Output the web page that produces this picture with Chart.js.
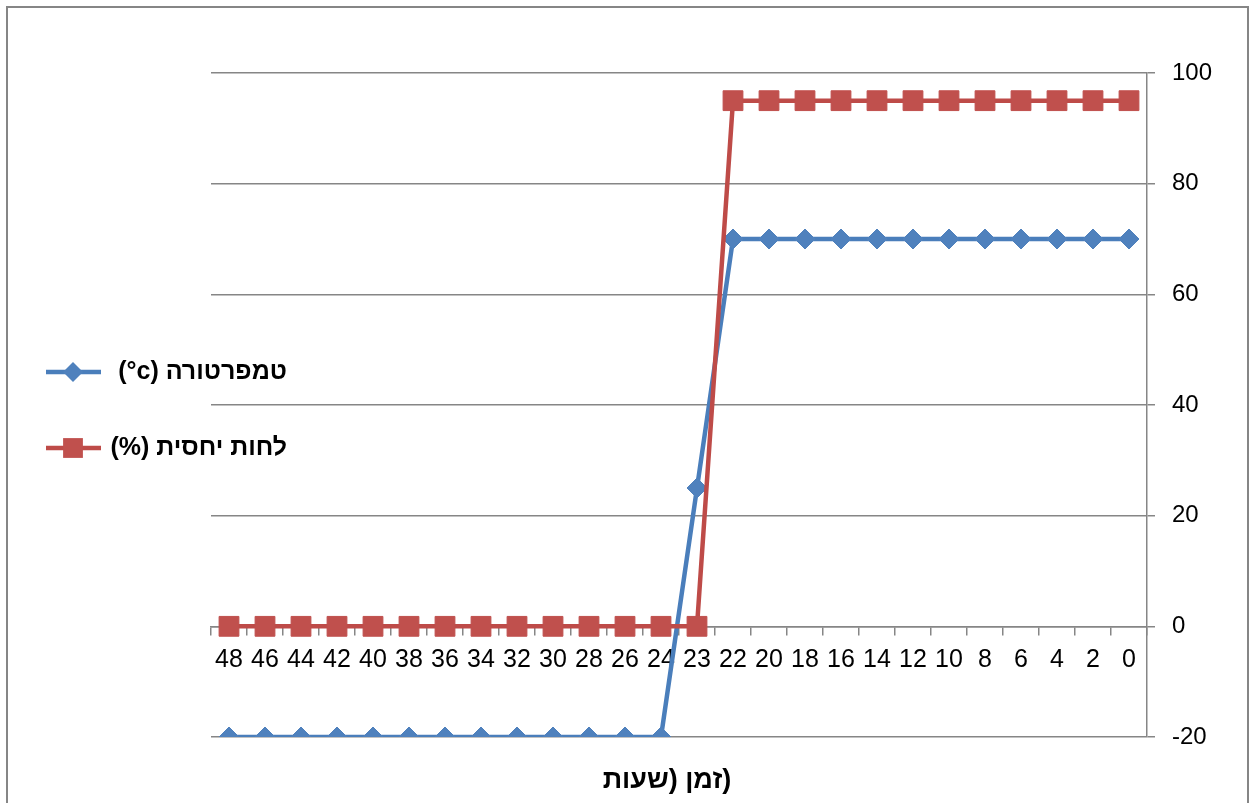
<!DOCTYPE html>
<html>
<head>
<meta charset="utf-8">
<title>טמפרטורה ולחות יחסית</title>
<script src="https://cdn.jsdelivr.net/npm/chart.js@4.4.1/dist/chart.umd.min.js"></script>
<style>
  html, body { margin: 0; padding: 0; background: #fff; }
  #wrap { position: relative; width: 1254px; height: 803px; }
</style>
</head>
<body>
<div id="wrap"><canvas id="chart"></canvas></div>
<script>
// hours, drawn right-to-left (48 on the left)
var hours = ['0', '2', '4', '6', '8', '10', '12', '14', '16', '18', '20', '22', '23',
             '24', '26', '28', '30', '32', '34', '36', '38', '40', '42', '44', '46', '48'];
var temperature = [70, 70, 70, 70, 70, 70, 70, 70, 70, 70, 70, 70, 25,
                   -20, -20, -20, -20, -20, -20, -20, -20, -20, -20, -20, -20, -20];
var humidity = [95, 95, 95, 95, 95, 95, 95, 95, 95, 95, 95, 95, 0,
                0, 0, 0, 0, 0, 0, 0, 0, 0, 0, 0, 0, 0];
var yTicks = [-20, 0, 20, 40, 60, 80, 100];
var tempLabel = '(°c) טמפרטורה';
var humLabel = '(%) לחות יחסית';
// the closing bracket sits in an isolate so it stays at the right end, as in the original
var xTitle = 'זמן (שעות\u2066)\u2069';

var gridGray = '#868686';
var blue = '#4A7EBB', blueFill = '#4F81BD';
var red = '#BE4B48', redFill = '#C0504D';
var font = '"Liberation Sans", Arial, sans-serif';

// outer frame, side legend and bottom title
var extras = {
  id: 'extras',
  afterDraw: function (chart) {
    var ctx = chart.ctx;
    ctx.save();
    ctx.strokeStyle = gridGray;
    ctx.lineWidth = 2;
    ctx.beginPath();
    ctx.moveTo(7, 803);
    ctx.lineTo(7, 7);
    ctx.lineTo(1248, 7);
    ctx.lineTo(1248, 803);
    ctx.stroke();

    var rows = [372, 448];
    chart.data.datasets.forEach(function (ds, i) {
      var y = rows[i];
      ctx.strokeStyle = ds.borderColor;
      ctx.lineWidth = ds.borderWidth;
      ctx.beginPath();
      ctx.moveTo(46, y);
      ctx.lineTo(101, y);
      ctx.stroke();
      ctx.fillStyle = ds.pointBackgroundColor;
      ctx.beginPath();
      if (ds.pointStyle === 'rectRot') {
        var r = ds.pointRadius;
        ctx.moveTo(73 - r, y);
        ctx.lineTo(73, y - r);
        ctx.lineTo(73 + r, y);
        ctx.lineTo(73, y + r);
        ctx.closePath();
      } else {
        var s = ds.pointRadius * Math.SQRT1_2;
        ctx.rect(73 - s, y - s, 2 * s, 2 * s);
      }
      ctx.fill();
      ctx.fillStyle = '#000';
      ctx.font = 'bold 25px ' + font;
      ctx.textAlign = 'right';
      ctx.textBaseline = 'middle';
      ctx.fillText(ds.label, 287, y);
    });

    ctx.font = 'bold 27px ' + font;
    ctx.textAlign = 'center';
    ctx.textBaseline = 'middle';
    ctx.fillStyle = '#000';
    ctx.fillText(xTitle, 667, 781);
    ctx.restore();
  }
};

new Chart(document.getElementById('chart'), {
  type: 'line',
  data: {
    labels: hours,
    datasets: [
      {
        label: tempLabel,
        data: temperature,
        borderColor: blue,
        borderWidth: 4.5,
        pointStyle: 'rectRot',
        pointRadius: 10,
        pointHoverRadius: 10,
        pointBackgroundColor: blueFill,
        pointBorderColor: blueFill,
        pointBorderWidth: 1,
        tension: 0,
        order: 1
      },
      {
        label: humLabel,
        data: humidity,
        borderColor: red,
        borderWidth: 4.5,
        pointStyle: 'rect',
        pointRadius: 14,
        pointHoverRadius: 14,
        pointBackgroundColor: redFill,
        pointBorderColor: redFill,
        pointBorderWidth: 1,
        tension: 0,
        order: 0
      }
    ]
  },
  options: {
    responsive: true,
    maintainAspectRatio: false,
    animation: false,
    devicePixelRatio: 1,
    layout: { padding: { left: 211, top: 73, bottom: 66, right: 0 } },
    plugins: {
      legend: { display: false },
      title: { display: false },
      tooltip: { enabled: false }
    },
    scales: {
      x: {
        type: 'category',
        position: { y: 0 },
        reverse: true,
        offset: true,
        grid: {
          offset: true,
          drawOnChartArea: false,
          drawTicks: true,
          tickLength: 8,
          color: gridGray,
          lineWidth: 1.5
        },
        border: { display: true, color: gridGray, width: 1.5 },
        ticks: {
          autoSkip: false,
          maxRotation: 0,
          minRotation: 0,
          padding: 11,
          color: '#000',
          font: { family: font, size: 25 }
        }
      },
      y: {
        position: 'right',
        min: -20,
        max: 100,
        afterBuildTicks: function (scale) {
          scale.ticks = yTicks.map(function (v) { return { value: v }; });
        },
        afterFit: function (scale) { scale.width = 107; },
        grid: {
          color: gridGray,
          lineWidth: 1.5,
          drawTicks: true,
          tickLength: 8
        },
        border: { display: true, color: gridGray, width: 1.5 },
        ticks: {
          padding: 17,
          color: '#000',
          font: { family: font, size: 24 }
        }
      }
    }
  },
  plugins: [extras]
});
</script>
</body>
</html>
